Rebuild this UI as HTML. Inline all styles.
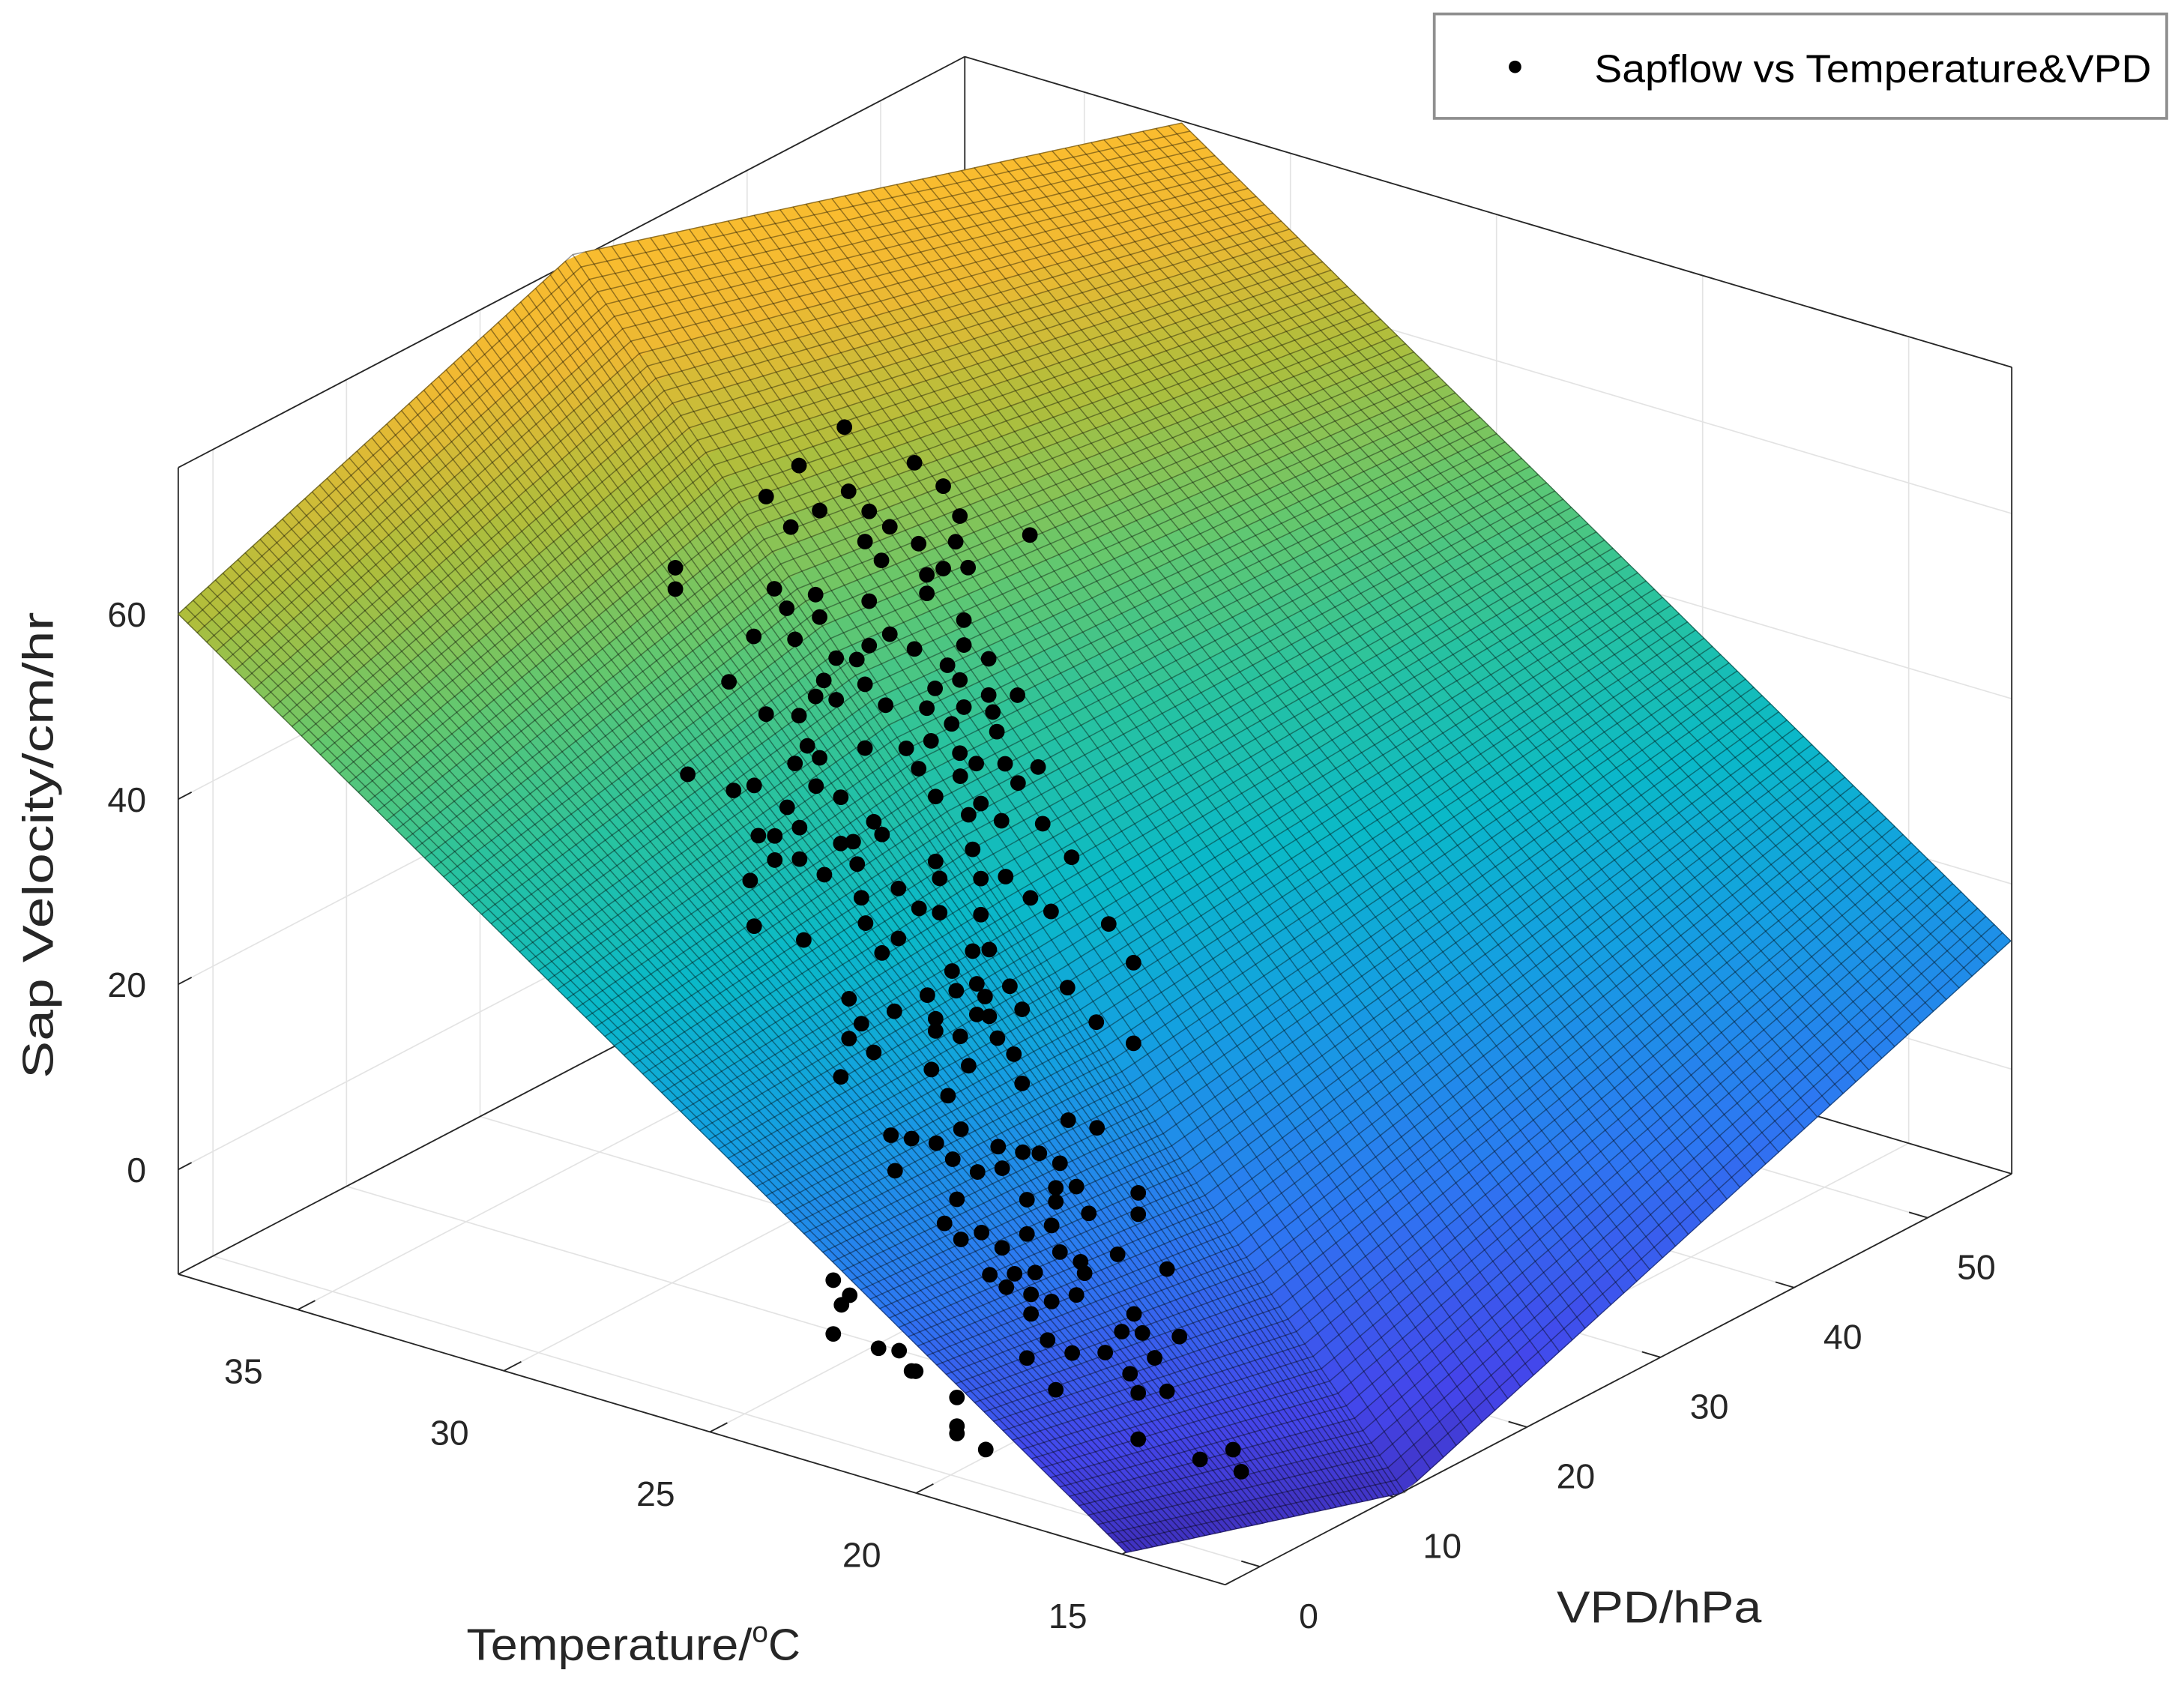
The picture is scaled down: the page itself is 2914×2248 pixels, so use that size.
<!DOCTYPE html>
<html>
<head>
<meta charset="utf-8">
<style>
html,body{margin:0;padding:0;background:#fff;}
svg{display:block;}
text{font-family:"Liberation Sans",Arial,sans-serif;}
</style>
</head>
<body>
<svg id="chart" xmlns="http://www.w3.org/2000/svg" width="2914" height="2248" viewBox="0 0 1568.4 1210" preserveAspectRatio="none">
  <rect x="0" y="0" width="1568.4" height="1210" fill="#ffffff"/>
  <g id="walls"></g>
  <g id="box"></g>
  <g id="surface"></g>
  <g id="mesh"></g>
  <g id="points"></g>
  <g id="ticks"></g>
  <text x="38" y="607" font-size="31" fill="#262626" text-anchor="middle" textLength="335" lengthAdjust="spacingAndGlyphs" transform="rotate(-90 38 607)">Sap Velocity/cm/hr</text>
  <text x="335" y="1192" font-size="32" fill="#262626"><tspan textLength="205" lengthAdjust="spacingAndGlyphs">Temperature/</tspan><tspan font-size="21" dy="-13">o</tspan><tspan dy="13">C</tspan></text>
  <text x="1118" y="1165" font-size="32" fill="#262626" textLength="147" lengthAdjust="spacingAndGlyphs">VPD/hPa</text>
  <g>
    <rect x="1030" y="10" width="526" height="75" fill="#ffffff" stroke="#8f8f8f" stroke-width="2"/>
    <circle cx="1088" cy="48" r="4.5" fill="#000"/>
    <text x="1145" y="59" font-size="28" fill="#000" textLength="400" lengthAdjust="spacingAndGlyphs">Sapflow vs Temperature&amp;VPD</text>
  </g>
</svg>
<script>
// axis limits
const tempLim = [12.5, 37.9];
const vpdLim = [-2.6, 56.3];
const sapLim = [-11.3, 75.8];
const tempTicks = [15, 20, 25, 30, 35];
const vpdTicks = [0, 10, 20, 30, 40, 50];
const sapTicks = [0, 20, 40, 60];

// fitted surface control vertices (rows along increasing VPD; each row: low temp -> high temp)
const surfTemp = [[14.9, 37.9], [12.1, 38.6], [12.2, 32.8]];
const surfVpd = [[-2.6, -2.6], [9.6, 29.1], [55.3, 56.8]];
const surfSap = [[-11, 60], [-10, 74], [15, 75]];
const surfSplit = 0.53;

// scatter data
const temperature = [
32.3,33.4,30.6,29.9,34.2,32.2,32.9,31.7,29.5,33.6,
31.2,31.8,30.5,29.6,27.8,31.4,36.4,30.3,29.9,29.3,
36.4,34.0,33.0,30.3,31.7,33.7,32.9,29.4,34.5,33.5,
31.7,31.2,30.6,32.0,32.5,29.4,29.8,28.8,32.8,31.8,
30.1,29.5,35.1,33.0,32.5,31.3,28.8,28.1,34.2,33.4,
30.3,29.4,28.7,29.7,28.6,33.2,32.9,31.8,30.8,30.2,
30.5,29.5,29.1,28.4,27.6,33.5,36.1,
31.1,30.6,29.1,26.2,25.6,24.2,28.5,29.8,27.7,25.1,
25.4,24.6,23.6,30.5,29.5,30.1,28.5,27.5,28.2,30.1,
29.5,28.1,26.2,25.3,22.9,30.7,28.9,27.1,26.1,25.1,
24.5,28.0,23.9,23.4,26.6,26.1,25.1,22.0,30.6,27.9,
29.4,27.1,27.5,25.3,24.9,
21.4,25.8,28.3,27.2,26.4,25.7,25.2,25.0,24.4,23.0,
26.2,25.2,24.9,24.1,28.0,22.3,28.3,26.2,25.6,24.7,
21.4,27.7,24.3,26.3,25.4,28.5,24.1,25.9,
17.8,17.1,22.1,21.6,20.4,21.0,19.5,18.9,18.5,20.6,
20.0,19.4,18.0,22.0,18.1,17.6,16.1,20.5,18.8,18.1,
17.3,16.1,20.8,18.2,19.9,20.4,18.8,19.4,18.0,16.6,
17.5,19.7,19.1,18.6,15.4,17.4,19.3,18.7,17.6,18.2,
18.7,16.2,18.3,16.5,16.0,15.1,18.8,17.7,16.9,15.7,
16.3,18.1,16.1,15.4,16.1,14.6,13.8,13.6,
23.5,23.3,23.5,21.9,21.5,20.5,20.5,19.8,
22.4,21.6,20.5,23.1
];
const vpd = [
30,30,30,30,30,30,30,30,30,30,
30,30,30,30,30,30,30,30,30,30,
30,30,30,30,30,30,30,30,30,30,
30,30,30,30,30,30,30,30,30,30,
30,30,30,30,30,30,30,30,30,30,
30,30,30,30,30,30,30,30,30,30,
30,30,30,30,30,30,30,
18,18,18,18,18,18,18,18,18,18,
18,18,18,18,18,18,18,18,18,18,
18,18,18,18,18,18,18,18,18,18,
18,18,18,18,18,18,18,18,18,18,
18,18,18,18,18,
18,18,18,18,18,18,18,18,18,18,
18,18,18,18,18,18,18,18,18,18,
18,18,18,18,18,18,18,18,
2,2,2,2,2,2,2,2,2,2,
2,2,2,2,2,2,2,2,2,2,
2,2,2,2,2,2,2,2,2,2,
2,2,2,2,2,2,2,2,2,2,
2,2,2,2,2,2,2,2,2,2,
2,2,2,2,2,2,2,2,
2,2,2,2,2,2,2,2,
2,2,2,2
];
const sapVelocity = [
63.0,57.4,61.4,59.8,53.0,56.2,53.2,54.7,57.1,50.5,
53.7,51.3,52.8,54.2,57.3,49.8,42.4,49.7,50.9,51.8,
40.1,43.3,44.0,47.7,45.0,41.6,41.7,46.0,37.5,38.5,
40.2,42.1,41.3,38.3,37.8,43.3,40.6,42.6,35.0,35.9,
37.7,39.4,31.8,33.0,33.3,34.3,38.7,39.6,29.5,30.4,
35.3,36.6,37.0,34.4,35.0,27.4,26.5,29.0,30.3,31.9,
28.5,31.5,30.9,31.8,32.5,25.1,20.5,
34.4,35.6,37.5,40.2,43.2,44.3,37.1,34.3,35.5,40.9,
39.3,39.7,40.7,30.3,32.5,30.8,32.1,34.4,32.7,28.2,
29.1,30.4,33.2,35.7,38.0,25.2,28.2,29.1,31.5,32.8,
33.8,26.9,32.3,31.5,27.6,27.8,28.9,32.0,20.4,24.3,
20.5,23.7,21.6,24.7,25.4,
28.6,21.9,15.6,15.7,18.5,19.9,21.3,20.2,22.1,23.8,
16.2,18.0,18.2,20.0,13.3,21.0,11.3,14.9,15.1,16.1,
19.9,10.6,14.9,10.6,12.2,6.9,12.0,8.3,
28.4,28.5,21.1,21.4,24.0,21.7,23.3,23.5,23.9,20.5,
19.9,21.1,23.5,17.4,20.7,21.5,22.8,16.3,18.5,19.2,
19.0,20.5,13.3,16.5,13.5,12.1,14.8,12.5,13.9,15.5,
13.5,9.2,10.1,10.9,15.5,12.4,8.4,8.4,9.8,8.3,
6.3,9.6,4.0,7.3,7.8,8.6,1.4,3.4,4.5,5.5,
3.0,-1.1,1.2,2.3,-3.8,-4.0,-1.9,-4.0,
3.6,1.2,-2.2,-1.9,-3.6,-5.1,-8.2,-9.8,
-2.3,-3.7,-9.0,2.5
];

const NS = "http://www.w3.org/2000/svg";
// projection (orthographic view of the 3D box)
const ORIGIN = [128, 915];
const ST = [29.6, 8.78];   // per unit temperature decrease
const SV = [9.59, -5.01];  // per unit VPD increase
const SZ = -6.65;          // per unit sap increase
function proj(T, V, Z) {
  const dt = tempLim[1] - T, dv = V - vpdLim[0], dz = Z - sapLim[0];
  return [ORIGIN[0] + dt * ST[0] + dv * SV[0], ORIGIN[1] + dt * ST[1] + dv * SV[1] + dz * SZ];
}
function mk(tag, parent, attrs) {
  const el = document.createElementNS(NS, tag);
  for (const k in attrs) el.setAttribute(k, attrs[k]);
  parent.appendChild(el);
  return el;
}
function line3(parent, a, b, color, w, name) {
  const p = proj(a[0], a[1], a[2]), q = proj(b[0], b[1], b[2]);
  const el = mk("line", parent, {x1: p[0], y1: p[1], x2: q[0], y2: q[1], stroke: color, "stroke-width": w});
  
  
  return el;
}

const walls = document.getElementById("walls");
const GRID = "#e3e3e3";
const [t0, t1] = tempLim, [v0, v1] = vpdLim, [z0, z1] = sapLim;
tempTicks.forEach(t => {
  line3(walls, [t, v0, z0], [t, v1, z0], GRID, 0.9, 'floor-grid-temp');
  line3(walls, [t, v1, z0], [t, v1, z1], GRID, 0.9, 'wall-grid-temp');
});
vpdTicks.forEach(v => {
  line3(walls, [t0, v, z0], [t1, v, z0], GRID, 0.9, 'floor-grid-vpd');
  line3(walls, [t1, v, z0], [t1, v, z1], GRID, 0.9, 'wall-grid-vpd');
});
sapTicks.forEach(z => {
  line3(walls, [t1, v0, z], [t1, v1, z], GRID, 0.9, 'wall-grid-sap');
  line3(walls, [t1, v1, z], [t0, v1, z], GRID, 0.9, 'wall-grid-sap');
});

const box = document.getElementById("box");
const BC = "#262626";
line3(box, [t1, v0, z1], [t1, v1, z1], BC, 1, 'box-edge');
line3(box, [t1, v1, z1], [t0, v1, z1], BC, 1, 'box-edge');
line3(box, [t1, v0, z0], [t1, v0, z1], BC, 1, 'box-edge');
line3(box, [t0, v1, z0], [t0, v1, z1], BC, 1, 'box-edge');
line3(box, [t1, v1, z0], [t1, v1, z1], BC, 1, 'box-edge');
line3(box, [t1, v0, z0], [t0, v0, z0], BC, 1, 'temperature-axis-line');
line3(box, [t0, v0, z0], [t0, v1, z0], BC, 1, 'vpd-axis-line');
line3(box, [t1, v0, z0], [t1, v1, z0], BC, 1, 'box-edge');
line3(box, [t1, v1, z0], [t0, v1, z0], BC, 1, 'box-edge');

const ticksG = document.getElementById("ticks");
tempTicks.forEach(t => {
  line3(box, [t, v0, z0], [t, v0 + 1.3, z0], BC, 1, 'temperature-tick');
  const p = proj(t, v0, z0);
  const tx = mk("text", ticksG, {x: p[0] - 39, y: p[1] + 53, "font-size": 25, fill: "#262626", "text-anchor": "middle"});
  tx.textContent = t;
  
  
});
vpdTicks.forEach(v => {
  line3(box, [t0, v, z0], [t0 + 0.45, v, z0], BC, 1, 'vpd-tick');
  const p = proj(t0, v, z0);
  const tx = mk("text", ticksG, {x: p[0] + 35, y: p[1] + 44, "font-size": 25, fill: "#262626", "text-anchor": "middle"});
  tx.textContent = v;
  
  
});
sapTicks.forEach(z => {
  line3(box, [t1, v0, z], [t1, v0 + 1.0, z], BC, 1, 'sap-tick');
  const p = proj(t1, v0, z);
  const tx = mk("text", ticksG, {x: p[0] - 23, y: p[1] + 9, "font-size": 25, fill: "#262626", "text-anchor": "end"});
  tx.textContent = z;
  
  
});

// parula-like colormap
const cmapStops = [[0,62,38,168],[0.10,68,70,235],[0.22,45,120,242],[0.35,20,160,225],[0.45,10,185,200],[0.55,40,195,160],[0.65,100,200,110],[0.75,175,190,60],[0.84,240,185,50],[0.93,254,190,45],[1,249,251,14]];
const CLIM = [-14, 84];
function cmap(z) {
  let f = (z - CLIM[0]) / (CLIM[1] - CLIM[0]);
  f = Math.max(0, Math.min(1, f));
  for (let i = 1; i < cmapStops.length; i++) {
    if (f <= cmapStops[i][0]) {
      const a = cmapStops[i - 1], b = cmapStops[i], k = (f - a[0]) / (b[0] - a[0]);
      return "rgb(" + [1, 2, 3].map(j => Math.round(a[j] + (b[j] - a[j]) * k)).join(",") + ")";
    }
  }
  return "rgb(249,251,14)";
}
function lerp(a, b, f) { return a + (b - a) * f; }
function surfPt(u, v) {
  let r0, r1, f;
  if (v <= surfSplit) { r0 = 0; r1 = 1; f = v / surfSplit; } else { r0 = 1; r1 = 2; f = (v - surfSplit) / (1 - surfSplit); }
  const row = (arr, r) => lerp(arr[r][0], arr[r][1], u);
  const T = lerp(row(surfTemp, r0), row(surfTemp, r1), f);
  const V = lerp(row(surfVpd, r0), row(surfVpd, r1), f);
  const Z = lerp(row(surfSap, r0), row(surfSap, r1), f);
  return [T, V, Z];
}

const surfG = document.getElementById("surface");
const NF = 50;
for (let i = 0; i < NF; i++) {
  for (let j = 0; j < NF; j++) {
    const c = [[i, j], [i + 1, j], [i + 1, j + 1], [i, j + 1]].map(([a, b]) => surfPt(a / NF, b / NF));
    const pts = c.map(q => proj(q[0], q[1], q[2]).map(n => n.toFixed(1)).join(",")).join(" ");
    const zAvg = (c[0][2] + c[1][2] + c[2][2] + c[3][2]) / 4;
    const col = cmap(zAvg);
    const poly = mk("polygon", surfG, {points: pts, fill: col, stroke: col, "stroke-width": 0.6});
    
    
  }
}
const meshG = document.getElementById("mesh");
const NM = 100;
for (let i = 0; i <= NM; i++) {
  const a = [], b = [];
  for (let j = 0; j <= NM; j++) {
    const p = surfPt(i / NM, j / NM), q = surfPt(j / NM, i / NM);
    a.push(proj(p[0], p[1], p[2]).map(n => n.toFixed(1)).join(","));
    b.push(proj(q[0], q[1], q[2]).map(n => n.toFixed(1)).join(","));
  }
  const l1 = mk("polyline", meshG, {points: a.join(" "), fill: "none", stroke: "rgba(0,0,0,0.4)", "stroke-width": 0.8});
  
  
  const l2 = mk("polyline", meshG, {points: b.join(" "), fill: "none", stroke: "rgba(0,0,0,0.4)", "stroke-width": 0.8});
  
  
}

const ptsG = document.getElementById("points");
for (let k = 0; k < temperature.length; k++) {
  const p = proj(temperature[k], vpd[k], sapVelocity[k]);
  const c = mk("circle", ptsG, {cx: p[0].toFixed(1), cy: p[1].toFixed(1), r: 5.6, fill: "#000"});
  
  
}
</script>
</body>
</html>
